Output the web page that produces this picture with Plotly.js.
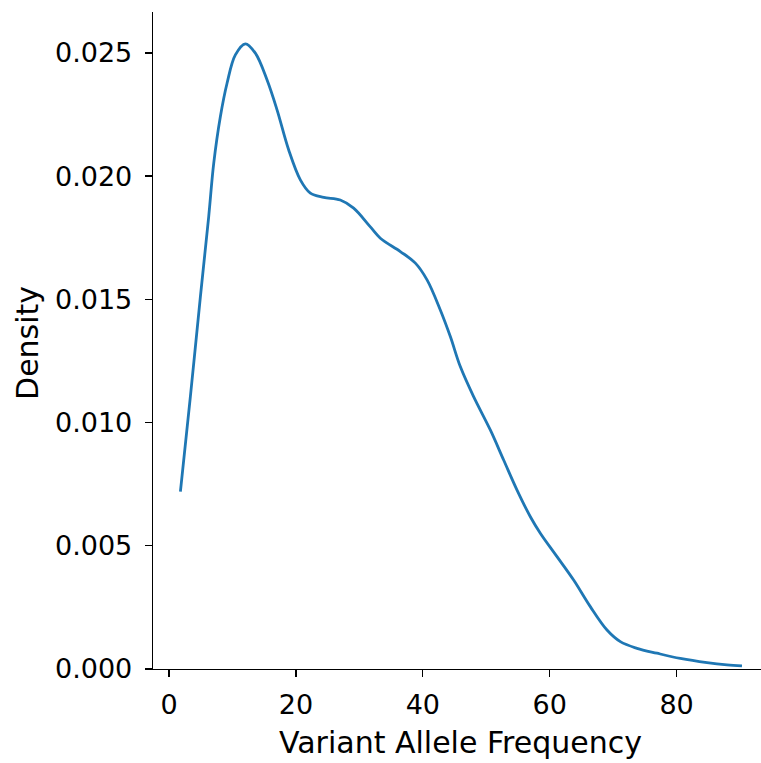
<!DOCTYPE html>
<html>
<head>
<meta charset="utf-8">
<script src="https://cdn.plot.ly/plotly-3.0.1.min.js"></script>
<style>html,body{margin:0;padding:0;background:#fff;}#chart{width:761px;height:763px;}</style>
</head>
<body>
<div id="chart"></div>
<script>
// Variant allele frequency (x) and KDE density (y)
var vaf = [1.80, 3.37, 4.95, 6.26, 7.05, 8.10, 9.15, 10.46, 12.04, 13.61, 15.46, 17.03, 18.87, 20.70, 22.28, 24.38, 27.0, 29.1, 31.7, 33.31, 36.46, 38.83, 40.67, 42.76, 44.34, 45.91, 48.01, 50.64, 52.74, 54.85, 56.95, 58.52, 61.15, 63.77, 66.40, 69.03, 71.13, 73.76, 76.91, 80.58, 84.79, 87.94, 90.3];
var density = [0.00720, 0.01105, 0.01511, 0.01836, 0.02052, 0.02242, 0.02377, 0.02492, 0.02537, 0.02499, 0.02390, 0.02269, 0.02106, 0.01985, 0.01931, 0.01914, 0.01903, 0.01870, 0.01795, 0.01748, 0.01694, 0.01647, 0.01579, 0.01457, 0.01349, 0.01227, 0.01105, 0.00970, 0.00848, 0.00726, 0.00618, 0.00551, 0.00456, 0.00361, 0.00253, 0.00158, 0.00111, 0.00084, 0.00064, 0.00043, 0.00026, 0.00017, 0.00013];
var xLabel = 'Variant Allele Frequency';
var yLabel = 'Density';

var font = 'DejaVu Sans, sans-serif';
var ink = '#000000';

var trace = {
  x: vaf, y: density, type: 'scatter', mode: 'lines',
  line: {color: '#1f77b4', width: 2.8, shape: 'spline', smoothing: 1},
  hoverinfo: 'skip'
};

var layout = {
  width: 761, height: 763,
  margin: {l: 153, r: 0, t: 12, b: 94, pad: 0},
  paper_bgcolor: '#ffffff', plot_bgcolor: '#ffffff',
  showlegend: false,
  font: {family: font, color: ink, size: 27},
  xaxis: {
    range: [-2.52, 93.3], tick0: 0, dtick: 20, tickmode: 'linear',
    showgrid: false, zeroline: false,
    showline: true, linecolor: ink, linewidth: 1.3,
    ticks: 'outside', ticklen: 7, tickwidth: 1.3, tickcolor: ink,
    tickfont: {family: font, size: 27, color: ink},
    ticklabelstandoff: 4
  },
  yaxis: {
    range: [0, 0.02666], tick0: 0, dtick: 0.005, tickmode: 'linear',
    tickformat: '.3f',
    showgrid: false, zeroline: false,
    showline: true, linecolor: ink, linewidth: 1.3,
    ticks: 'outside', ticklen: 7, tickwidth: 1.3, tickcolor: ink,
    tickfont: {family: font, size: 27, color: ink},
    ticklabelstandoff: 7
  },
  annotations: [
    {text: xLabel, xref: 'x', x: 45.96, yref: 'paper', y: 0, yanchor: 'top', xanchor: 'center',
     yshift: -54, showarrow: false, font: {family: font, size: 30, color: ink}},
    {text: yLabel, xref: 'paper', x: 0, xanchor: 'center', xshift: -125.5,
     yref: 'y', y: 0.01321, yanchor: 'middle', textangle: -90,
     showarrow: false, font: {family: font, size: 30, color: ink}}
  ]
};

Plotly.newPlot('chart', [trace], layout, {displayModeBar: false, staticPlot: true});
</script>
</body>
</html>
